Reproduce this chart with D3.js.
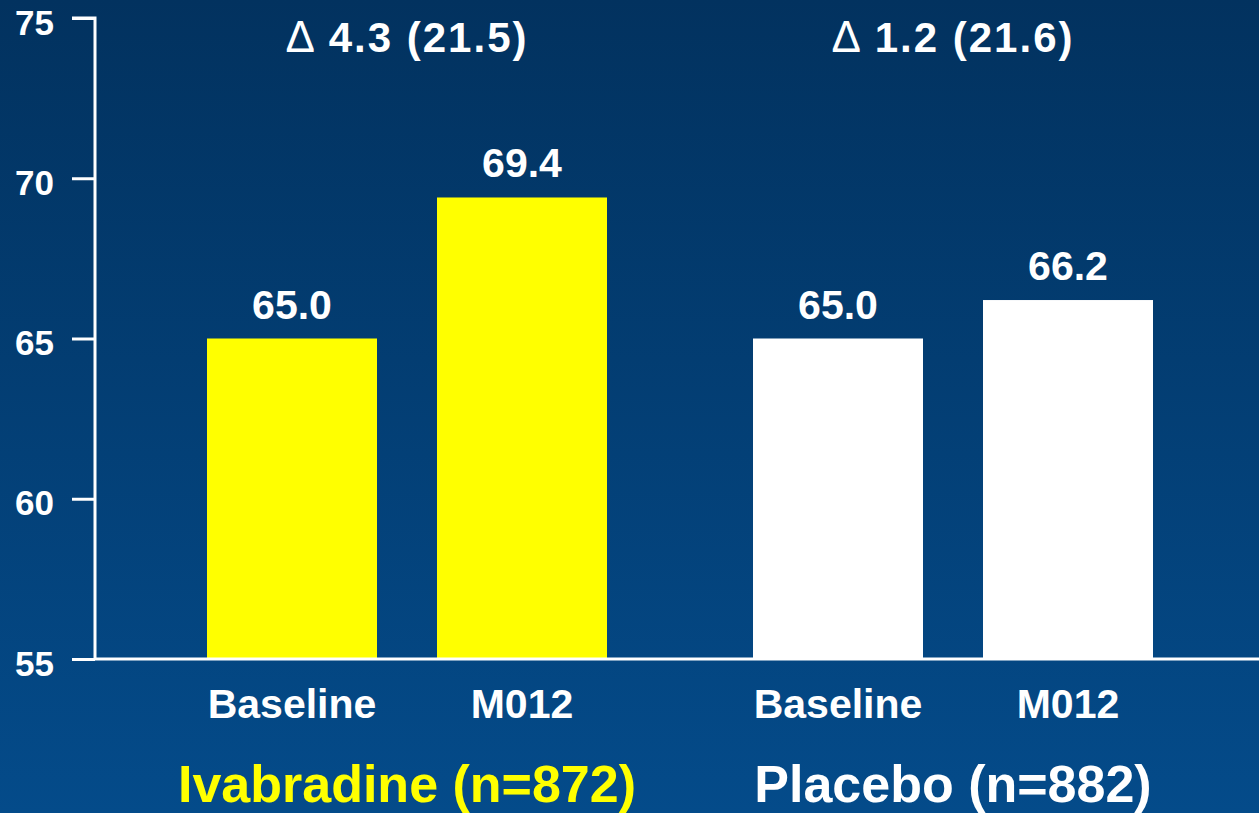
<!DOCTYPE html>
<html>
<head>
<meta charset="utf-8">
<script src="https://cdn.jsdelivr.net/npm/d3@7"></script>
<style>
  html, body { margin: 0; padding: 0; background: #03396b; }
  svg { display: block; }
  text { font-family: "Liberation Sans", Arial, sans-serif; font-weight: bold; }
</style>
</head>
<body>
<svg id="chart" width="1259" height="813"></svg>
<script>
// Heart rate values per treatment arm, baseline vs month 12
const groups = ["Ivabradine (n=872)", "Placebo (n=882)"];
const timepoints = ["Baseline", "M012"];
const ivabradineValues = [65.0, 69.4];
const placeboValues = [65.0, 66.2];
const deltaLabels = ["4.3 (21.5)", "1.2 (21.6)"];
const yTicks = [55, 60, 65, 70, 75];

const seriesByGroup = [ivabradineValues, placeboValues];
const groupColors = ["#ffff00", "#ffffff"];
const groupLabelColors = ["#ffff00", "#ffffff"];

const W = 1259, H = 813;
const svg = d3.select("#chart");

// background gradient: dark navy at top, brighter blue toward bottom
const defs = svg.append("defs");
const grad = defs.append("linearGradient")
  .attr("id", "bg").attr("x1", 0).attr("y1", 0).attr("x2", 0).attr("y2", 1);
grad.append("stop").attr("offset", "0%").attr("stop-color", "#02325f");
grad.append("stop").attr("offset", "100%").attr("stop-color", "#044b8a");
svg.append("rect").attr("width", W).attr("height", H).attr("fill", "url(#bg)");

const axisX = 95;
const y = d3.scaleLinear().domain([55, 75]).range([659, 18]);

const xGroup = d3.scaleBand()
  .domain(groups)
  .range([207, 1153])
  .paddingInner(146 / 546)
  .paddingOuter(0);

const xTime = d3.scaleBand()
  .domain(timepoints)
  .range([0, xGroup.bandwidth()])
  .paddingInner(60 / 230)
  .paddingOuter(0);

// bars
const barData = [];
groups.forEach((g, gi) => {
  timepoints.forEach((t, ti) => {
    barData.push({ group: g, time: t, value: seriesByGroup[gi][ti], color: groupColors[gi] });
  });
});

svg.append("g").selectAll("rect")
  .data(barData)
  .join("rect")
  .attr("x", d => xGroup(d.group) + xTime(d.time))
  .attr("y", d => y(d.value))
  .attr("width", xTime.bandwidth())
  .attr("height", d => y(55) - y(d.value))
  .attr("fill", d => d.color);

// value labels above bars
svg.append("g").selectAll("text")
  .data(barData)
  .join("text")
  .attr("x", d => xGroup(d.group) + xTime(d.time) + xTime.bandwidth() / 2)
  .attr("y", d => y(d.value) - 20)
  .attr("text-anchor", "middle")
  .attr("fill", "#ffffff")
  .attr("font-size", 41)
  .text(d => d.value.toFixed(1));

// y axis
const yAxis = d3.axisLeft(y).tickValues(yTicks).tickSize(23).tickPadding(18).tickFormat(d3.format("d"));
const gy = svg.append("g").attr("transform", `translate(${axisX},0)`).call(yAxis);
gy.select(".domain").attr("stroke", "#ffffff").attr("stroke-width", 3)
  .attr("d", `M-23,${y(75)}H0V${y(55)}`);
gy.selectAll(".tick line").attr("stroke", "#ffffff").attr("stroke-width", 3);
gy.selectAll(".tick text")
  .attr("fill", "#ffffff")
  .attr("font-size", 35)
  .attr("font-family", "'Liberation Sans', Arial, sans-serif")
  .attr("font-weight", "bold")
  .attr("dy", "0.46em");

// x baseline
svg.append("line")
  .attr("x1", axisX).attr("x2", W)
  .attr("y1", y(55)).attr("y2", y(55))
  .attr("stroke", "#ffffff").attr("stroke-width", 3);

// timepoint labels under bars
const xAxis = d3.axisBottom(xTime).tickSize(0).tickPadding(0);
groups.forEach(g => {
  const gx = svg.append("g").attr("transform", `translate(${xGroup(g)},${y(55)})`).call(xAxis);
  gx.select(".domain").remove();
  gx.selectAll(".tick text")
    .attr("fill", "#ffffff")
    .attr("font-size", 41)
    .attr("font-family", "'Liberation Sans', Arial, sans-serif")
    .attr("font-weight", "bold")
    .attr("dy", 0)
    .attr("y", 59);
});

// group labels
svg.append("g").selectAll("text")
  .data(groups)
  .join("text")
  .attr("x", d => xGroup(d) + xGroup.bandwidth() / 2)
  .attr("y", 802)
  .attr("text-anchor", "middle")
  .attr("font-size", 52)
  .attr("fill", (d, i) => groupLabelColors[i])
  .text(d => d);

// change-from-baseline headers
const deltas = svg.append("g").selectAll("text")
  .data(groups)
  .join("text")
  .attr("x", d => xGroup(d) + xGroup.bandwidth() / 2)
  .attr("y", 52)
  .attr("text-anchor", "middle")
  .attr("font-size", 42)
  .attr("letter-spacing", 2)
  .attr("fill", "#ffffff");
deltas.append("tspan").attr("font-weight", "normal").attr("font-size", 44).text("\u0394 ");
deltas.append("tspan").text((d, i) => deltaLabels[i]);
</script>
</body>
</html>
